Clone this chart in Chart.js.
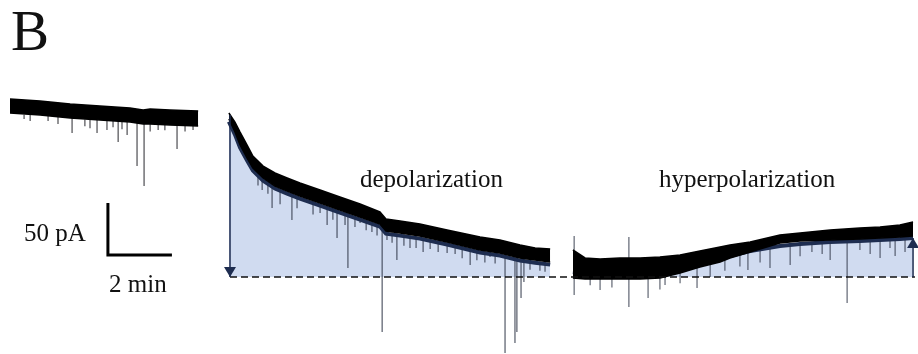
<!DOCTYPE html>
<html>
<head>
<meta charset="utf-8">
<script src="https://cdn.jsdelivr.net/npm/chart.js@4.4.1/dist/chart.umd.min.js"></script>
<style>
  html, body { margin: 0; padding: 0; background: #fff; }
  #wrap { position: relative; width: 918px; height: 354px; overflow: hidden; }
  #chart { position: absolute; left: 0; top: 0; }
  .lbl {
    position: absolute;
    font-family: "Liberation Serif", "Times New Roman", serif;
    font-size: 25px;
    line-height: 25px;
    color: #111;
    white-space: nowrap;
  }
</style>
</head>
<body>
<div id="wrap">
  <canvas id="chart" width="918" height="354"></canvas>
  <div class="lbl" style="left:11px;top:2px;font-size:57px;line-height:57px;">B</div>
  <div class="lbl" style="left:360px;top:166px;">depolarization</div>
  <div class="lbl" style="left:659px;top:166px;">hyperpolarization</div>
  <div class="lbl" style="left:24px;top:220px;">50 pA</div>
  <div class="lbl" style="left:109px;top:271px;">2 min</div>
</div>
<script>
// x = time (min), y = holding current (pA) relative to the dashed baseline

// trace 1: control
const t1 = [0, 0.94, 1.88, 2.81, 3.75, 4.16, 4.38, 5.0, 5.88];
const t1Top = [171.2, 169.2, 166.3, 164.4, 162.5, 160.6, 161.5, 160.6, 159.6];
const t1Bottom = [157.7, 155.8, 152.9, 151.0, 149.0, 147.1, 147.1, 146.2, 145.2];
const s1T = [0.44, 0.63, 1.19, 1.5, 1.94, 2.34, 2.5, 2.72, 3.03, 3.22, 3.38, 3.5, 3.66, 3.97, 4.19, 4.38, 4.63, 4.84, 5.22, 5.47, 5.72];
const s1From = [156, 156, 155, 154, 153, 151.5, 151, 151, 150, 150, 150, 149.5, 149, 148, 148, 147, 147, 146.5, 146, 146, 146];
const s1To = [151.9, 150, 150.0, 147, 138.5, 145, 143, 138.5, 141.3, 144, 129.8, 142, 136.5, 106.7, 87.5, 140, 141.3, 141, 123.1, 140, 141.3];

// trace 2: depolarization
const t2 = [6.84, 7.03, 7.19, 7.41, 7.59, 7.91, 8.28, 8.66, 9.06, 9.69, 10.31, 10.94, 11.56, 11.75, 12.19, 12.81, 13.66, 14.69, 15.31, 15.94, 16.41, 16.88];
const t2Top = [157.7, 149.0, 139.4, 126.9, 116.3, 106.7, 100.0, 95.2, 90.4, 83.7, 76.9, 70.2, 62.5, 55.8, 53.8, 51.0, 45.2, 38.5, 35.6, 30.8, 27.9, 26.9];
const t2Bottom = [151.9, 139.4, 126.9, 114.4, 104.8, 95.2, 87.5, 82.7, 77.9, 71.2, 64.4, 57.7, 51.0, 44.2, 42.3, 39.4, 33.7, 26.0, 23.1, 18.3, 16.3, 14.4];
const fit2 = [149.4, 136.9, 124.4, 111.9, 102.3, 92.7, 85.0, 80.2, 75.4, 68.7, 61.9, 55.2, 48.5, 41.7, 39.8, 36.9, 31.2, 23.5, 20.6, 15.8, 13.8, 11.9];
const s2T = [7.75, 7.88, 8.06, 8.19, 8.44, 8.81, 8.97, 9.22, 9.47, 9.69, 9.91, 10.09, 10.22, 10.47, 10.56, 10.78, 10.94, 11.13, 11.31, 11.47, 11.63, 11.78, 11.94, 12.09, 12.31, 12.5, 12.69, 12.91, 13.13, 13.38, 13.66, 13.91, 14.13, 14.38, 14.59, 14.84, 15.0, 15.16, 15.47, 15.78, 15.84, 15.97, 16.06, 16.25, 16.56, 16.72];
const s2From = [100, 96, 91, 90, 85, 81, 77, 77, 73, 71, 69, 67, 66, 63, 62, 59, 58, 56, 54, 52, 60, 45, 43, 42, 41.5, 40, 40, 38, 37, 35.5, 33, 32, 30, 28, 27, 25, 24, 24, 22, 20, 20, 20, 19, 17, 15, 14.5];
const s2To = [88, 83.7, 80, 66.3, 70, 54.8, 66, 72.1, 60, 61.5, 50.0, 55, 37.5, 50, 8.7, 48, 51.9, 45, 43.3, 40, -52.9, 35.6, 33, 16.3, 30, 27.9, 28, 24.0, 27, 24, 23.1, 22, 18, 11.5, 16, 14, 19.2, 13, -73.1, -63.5, -52.9, -20.2, -4.8, 7, 6, 5];

// trace 3: hyperpolarization
const t3 = [17.59, 17.97, 18.44, 19.06, 19.69, 20.31, 20.94, 21.56, 22.19, 22.5, 23.13, 24.06, 24.69, 25.63, 26.56, 27.19, 27.81, 28.22];
const t3Top = [26.0, 18.3, 17.3, 18.3, 18.3, 19.2, 21.2, 25.0, 28.8, 30.8, 33.7, 40.4, 42.3, 45.2, 47.1, 48.1, 50.0, 52.9];
const t3Bottom = [-1.0, -1.9, -1.9, -1.9, -1.9, -1.0, 3.8, 9.6, 14.4, 18.3, 24.0, 32.7, 34.6, 35.6, 36.5, 37.5, 38.5, 39.4];
const fit3 = [4.8, 3.8, 3.8, 3.8, 4.8, 6.7, 9.6, 13.5, 18.3, 20.2, 25.0, 29.8, 31.7, 33.7, 34.6, 35.6, 36.5, 37.5];
const s3T = [17.63, 17.63, 18.13, 18.44, 18.81, 19.34, 19.34, 19.94, 20.31, 20.47, 20.94, 21.47, 21.88, 22.34, 22.81, 23.06, 23.44, 23.75, 24.38, 24.69, 25.06, 25.38, 25.63, 26.16, 26.56, 26.88, 27.19, 27.5, 27.66, 27.97];
const s3From = [26.0, 1.9, -1.9, 0, -1.9, 18.3, 0, 0, -1, 0, 3.8, 8.7, 12, 19, 22, 24.0, 26, 27.9, 30.8, 33, 34, 35, 34.6, 35.6, 36.5, 37, 37.5, 38, 38.5, 39];
const s3To = [39.4, -17.3, -8, -12.5, -10, 38.5, -28.8, -20.2, -12, -7.7, -6, -10.6, 0, 6, 10, 6.7, 14, 8.7, 11.5, 20, 24, 22, 16.3, -25.0, 26, 22, 18.3, 28, 20.2, 24];

// baseline, amplitude arrows, scale bar
const baseT = [6.875, 28.28];
const baseY = [0, 0];
const arrowT = [6.875, 28.22];
const arrowFrom = [155.8, 0];
const arrowTo = [0, 37.5];
const scaleBarT = [3.06, 3.06, 5.06];
const scaleBarY = [71.15, 21.15, 21.15];

const navy = "#1e2d50";
const paleBlue = "#d0dbf0";

function pts(xs, ys) {
  return xs.map((x, i) => ({ x: x, y: ys[i] }));
}

function spikes(xs, from, to) {
  let out = [];
  xs.forEach((x, i) => {
    out.push({ x: x, y: from[i] }, { x: x, y: to[i] }, { x: x, y: null });
  });
  return out;
}

const datasets = [];

function add(ds) {
  datasets.push(Object.assign({ pointRadius: 0, fill: false, borderWidth: 1.5 }, ds));
  return datasets.length - 1;
}

// pale area between fit and baseline
add({ data: pts(t2, fit2), fill: { value: 0 }, backgroundColor: paleBlue, borderWidth: 0, order: 10 });
add({ data: pts(t3, fit3), fill: { value: 0 }, backgroundColor: paleBlue, borderWidth: 0, order: 10 });

// spontaneous events
add({ data: spikes(s1T, s1From, s1To), borderColor: "rgba(50,50,55,0.8)", borderWidth: 1.3, order: 8 });
add({ data: spikes(s2T, s2From, s2To), borderColor: "rgba(45,52,70,0.75)", borderWidth: 1.3, order: 8 });
add({ data: spikes(s3T, s3From, s3To), borderColor: "rgba(45,52,70,0.7)", borderWidth: 1.3, order: 8 });

// fitted drift
add({ data: pts(t2, fit2), borderColor: navy, borderWidth: 4, order: 6 });
add({ data: pts(t3, fit3), borderColor: navy, borderWidth: 4, order: 6 });

// noisy current band
let b1 = add({ data: pts(t1, t1Bottom), borderColor: "#000", order: 4 });
add({ data: pts(t1, t1Top), borderColor: "#000", backgroundColor: "#000", fill: b1, order: 4 });
let b2 = add({ data: pts(t2, t2Bottom), borderColor: "#000", order: 4 });
add({ data: pts(t2, t2Top), borderColor: "#000", backgroundColor: "#000", fill: b2, order: 4 });
let b3 = add({ data: pts(t3, t3Bottom), borderColor: "#000", order: 4 });
add({ data: pts(t3, t3Top), borderColor: "#000", backgroundColor: "#000", fill: b3, order: 4 });

// dashed baseline
add({ data: pts(baseT, baseY), borderColor: "#111", borderWidth: 1.6, borderDash: [7, 4], order: 2 });

// arrow shafts
arrowT.forEach((t, i) => {
  add({ data: pts([t, t], [arrowFrom[i], arrowTo[i]]), borderColor: navy, borderWidth: 1.5, order: 1 });
});

// scale bar
add({ data: pts(scaleBarT, scaleBarY), borderColor: "#000", borderWidth: 3, borderJoinStyle: "miter", order: 1 });

const arrowHeads = {
  id: "arrowHeads",
  afterDatasetsDraw(chart) {
    const { ctx, scales } = chart;
    ctx.save();
    ctx.fillStyle = navy;
    arrowT.forEach((t, i) => {
      const px = scales.x.getPixelForValue(t);
      const tip = scales.y.getPixelForValue(arrowTo[i]);
      const dir = arrowTo[i] < arrowFrom[i] ? 1 : -1;
      ctx.beginPath();
      ctx.moveTo(px, tip);
      ctx.lineTo(px - 6, tip - dir * 10);
      ctx.lineTo(px + 6, tip - dir * 10);
      ctx.closePath();
      ctx.fill();
    });
    ctx.restore();
  }
};

new Chart(document.getElementById("chart"), {
  type: "line",
  data: { datasets: datasets },
  options: {
    responsive: false,
    animation: false,
    events: [],
    layout: { padding: 0 },
    plugins: { legend: { display: false }, tooltip: { enabled: false } },
    scales: {
      x: { type: "linear", display: false, min: -0.3125, max: 28.375 },
      y: { type: "linear", display: false, min: -74.04, max: 266.35 }
    }
  },
  plugins: [arrowHeads]
});
</script>
</body>
</html>
